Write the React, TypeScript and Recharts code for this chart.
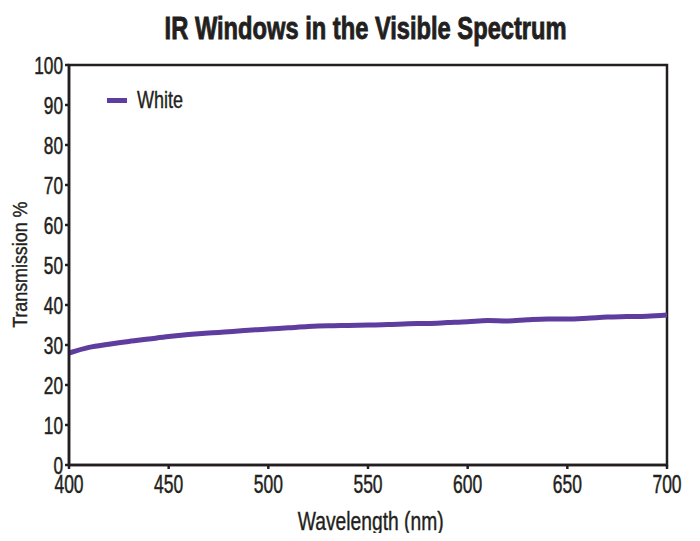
import {
  LineChart,
  Line,
  XAxis,
  YAxis,
  ReferenceArea
} from 'recharts';

const wavelengths = [400, 410, 420, 430, 440, 450, 460, 470, 480, 490, 500, 510, 520, 530, 540, 550, 560, 570, 580, 590, 600, 610, 620, 630, 640, 650, 660, 670, 680, 690, 700];
const whiteTransmission = [28.0, 29.4, 30.2, 30.9, 31.5, 32.1, 32.6, 33.0, 33.3, 33.7, 34.0, 34.3, 34.6, 34.8, 34.9, 35.0, 35.1, 35.3, 35.4, 35.6, 35.8, 36.1, 36.0, 36.3, 36.5, 36.5, 36.7, 37.0, 37.1, 37.2, 37.5];
const xTicks = [400, 450, 500, 550, 600, 650, 700];
const yTicks = [0, 10, 20, 30, 40, 50, 60, 70, 80, 90, 100];

const chartData = wavelengths.map((w, i) => ({ wavelength: w, white: whiteTransmission[i] }));

const FONT = '"Liberation Sans", Arial, sans-serif';
const INK = '#231f20';
const PURPLE = '#5e3d9e';

// the original uses a condensed face, so squeeze the glyphs horizontally
const YTick = ({ x, y, payload }: any) => (
  <g transform={`translate(${x},${y})`}>
    <text transform="scale(0.72,1)" textAnchor="end" dy="0.36em" fontSize={24} fill={INK} stroke={INK} strokeWidth={0.5} fontFamily={FONT}>
      {payload.value}
    </text>
  </g>
);

const XTick = ({ x, y, payload }: any) => (
  <g transform={`translate(${x},${y})`}>
    <text transform="scale(0.7,1)" textAnchor="middle" dy={22} fontSize={25} fill={INK} stroke={INK} strokeWidth={0.5} fontFamily={FONT}>
      {payload.value}
    </text>
  </g>
);

const squeeze = (s: number) => ({ display: 'inline-block', transform: `scaleX(${s})`, whiteSpace: 'nowrap' as const });

export default function App() {
  return (
    <div style={{ position: 'relative', width: 700, height: 541, margin: -8, background: '#fff', fontFamily: FONT, color: INK }}>
      <div style={{ position: 'absolute', top: 8, left: 67, width: 598, textAlign: 'center', fontWeight: 'bold', fontSize: 32, lineHeight: '40px', WebkitTextStroke: '0.9px ' + INK }}>
        <span style={squeeze(0.74)}>IR Windows in the Visible Spectrum</span>
      </div>
      <div style={{ position: 'absolute', top: 86, left: 107, display: 'flex', alignItems: 'center', fontSize: 24, lineHeight: '28px', zIndex: 2, WebkitTextStroke: '0.4px ' + INK }}>
        <div style={{ width: 20, height: 5, background: PURPLE }}></div>
        <span style={{ ...squeeze(0.75), transformOrigin: 'left center', marginLeft: 10 }}>White</span>
      </div>
      <div style={{ position: 'absolute', top: 506, left: 72, width: 598, textAlign: 'center', fontSize: 25, lineHeight: '30px', WebkitTextStroke: '0.4px ' + INK }}>
        <span style={squeeze(0.77)}>Wavelength (nm)</span>
      </div>
      <div style={{ position: 'absolute', top: 250, left: -80, width: 200, textAlign: 'center', fontSize: 21, lineHeight: '30px', transform: 'rotate(-90deg)', WebkitTextStroke: '0.4px ' + INK }}>
        <span style={squeeze(0.85)}>Transmission %</span>
      </div>
      <LineChart width={700} height={541} data={chartData} margin={{ top: 65, right: 33, left: 25, bottom: 46 }}>
        <XAxis
          dataKey="wavelength"
          type="number"
          domain={[400, 700]}
          ticks={xTicks}
          tickSize={4}
          height={30}
          stroke={INK}
          strokeWidth={2.5}
          tick={<XTick />}
        />
        <YAxis
          type="number"
          domain={[0, 100]}
          ticks={yTicks}
          tickSize={4}
          width={44}
          stroke={INK}
          strokeWidth={2.5}
          tick={<YTick />}
        />
        <ReferenceArea x1={400} x2={700} y1={0} y2={100} fill="none" stroke={INK} strokeWidth={2.5} />
        <Line
          type="monotone"
          dataKey="white"
          stroke={PURPLE}
          strokeWidth={5}
          dot={false}
          name="White"
          isAnimationActive={false}
        />
      </LineChart>
    </div>
  );
}
